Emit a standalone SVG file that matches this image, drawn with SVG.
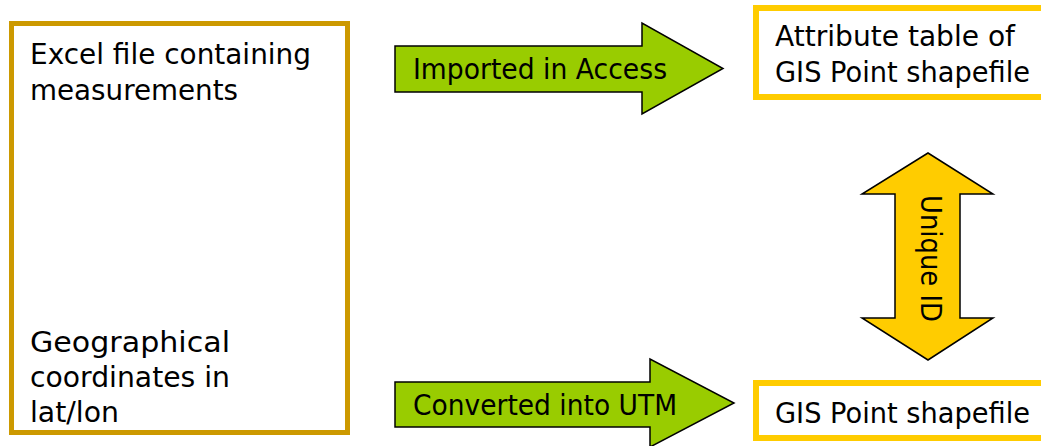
<svg xmlns="http://www.w3.org/2000/svg" width="1041" height="446" viewBox="0 0 1041 446">
  <style>
    .lbl { font-family: "DejaVu Sans", "Liberation Sans", sans-serif; font-size: 28px; fill: #000000; }
    .src { fill: #ffffff; stroke: #cc9900; stroke-width: 5; }
    .dst { fill: #ffffff; stroke: #ffcc00; stroke-width: 6; }
    .flow { fill: #99cc00; stroke: #000000; stroke-width: 1.5; stroke-linejoin: miter; }
    .link { fill: #ffcc00; stroke: #000000; stroke-width: 1.5; stroke-linejoin: miter; }
  </style>
  <rect width="1041" height="446" fill="#ffffff"/>

  <!-- Source spreadsheet -->
  <g id="excel-file">
    <rect class="src" x="11.5" y="23.5" width="336" height="409"/>
    <text class="lbl" x="30" y="64" textLength="281" lengthAdjust="spacingAndGlyphs">Excel file containing</text>
    <text class="lbl" x="30" y="100" textLength="208" lengthAdjust="spacingAndGlyphs">measurements</text>
    <text class="lbl" x="30" y="352" textLength="200" lengthAdjust="spacingAndGlyphs">Geographical</text>
    <text class="lbl" x="30" y="387" textLength="200" lengthAdjust="spacingAndGlyphs">coordinates in</text>
    <text class="lbl" x="30" y="422" textLength="89" lengthAdjust="spacingAndGlyphs">lat/lon</text>
  </g>

  <!-- Attribute table -->
  <g id="attribute-table">
    <rect class="dst" x="756" y="8" width="300" height="89"/>
    <text class="lbl" x="775" y="46" textLength="240" lengthAdjust="spacingAndGlyphs">Attribute table of</text>
    <text class="lbl" x="775" y="82" textLength="255" lengthAdjust="spacingAndGlyphs">GIS Point shapefile</text>
  </g>

  <!-- Point shapefile -->
  <g id="point-shapefile">
    <rect class="dst" x="756" y="383" width="300" height="55"/>
    <text class="lbl" x="775" y="423" textLength="255" lengthAdjust="spacingAndGlyphs">GIS Point shapefile</text>
  </g>

  <!-- Block arrows between the files -->
  <g id="connectors">
    <g id="import-arrow">
      <polygon class="flow" points="395,46 642,46 642,23 723,68.5 642,114 642,92 395,92"/>
      <text class="lbl" x="413" y="79" textLength="254" lengthAdjust="spacingAndGlyphs">Imported in Access</text>
    </g>
    <g id="convert-arrow">
      <polygon class="flow" points="395,382 650,382 650,359 734,403 650,447 650,427 395,427"/>
      <text class="lbl" x="413" y="415" textLength="264" lengthAdjust="spacingAndGlyphs">Converted into UTM</text>
    </g>
    <g id="id-link">
      <polygon class="link" points="928,153 993,194 960,194 960,318 993,318 928,360 862,318 895,318 895,194 862,194"/>
      <text class="lbl" transform="translate(921,195) rotate(90)" textLength="127" lengthAdjust="spacingAndGlyphs">Unique ID</text>
    </g>
  </g>
</svg>
